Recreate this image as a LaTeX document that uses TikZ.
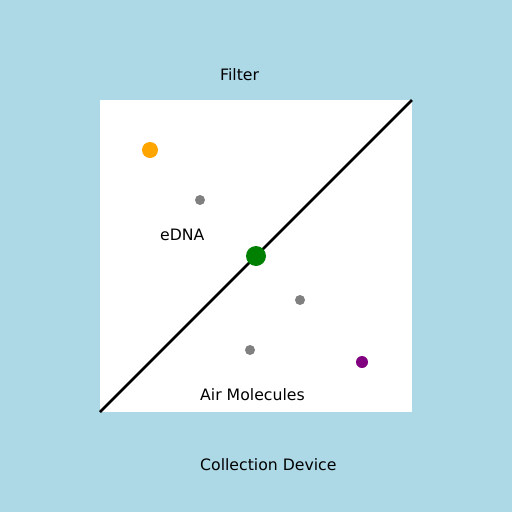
\documentclass[tikz,border=0pt]{standalone}
\usepackage{fontspec}
\setmainfont{DejaVu Sans}
\definecolor{bgblue}{HTML}{ADD8E6}
\definecolor{dotorange}{HTML}{FFA500}
\definecolor{dotgray}{HTML}{808080}
\definecolor{dotgreen}{HTML}{008000}
\definecolor{dotpurple}{HTML}{800080}
\begin{document}
\begin{tikzpicture}[x=1pt,y=-1pt,
  lbl/.style={anchor=base west,inner sep=0pt,font=\fontsize{15.7}{19}\selectfont},
  dot/.style={circle,inner sep=0pt,minimum size=#1}]
\fill[bgblue] (0,0) rectangle (512,512);
\useasboundingbox (0,0) rectangle (512,512);
\fill[white] (100,100) rectangle (412,412);
\coordinate (lo) at (100,412);
\coordinate (hi) at (412,100);
\draw[line width=2.8pt] (lo) -- (hi);
\node[dot=16pt,fill=dotorange] (orange) at (150,150) {};
\node[dot=10pt,fill=dotgray] (g1) at (200,200) {};
\node[dot=20pt,fill=dotgreen] (green) at (256,256) {};
\node[dot=10pt,fill=dotgray] (g2) at (300,300) {};
\node[dot=10pt,fill=dotgray] (g3) at (250,350) {};
\node[dot=12pt,fill=dotpurple] (purple) at (362,362) {};
\node[lbl] (filter) at (220,80) {Filter};
\node[lbl] (edna) at (160,240) {eDNA};
\node[lbl] (air) at (200,400) {Air Molecules};
\node[lbl] (dev) at (200,470.5) {Collection Device};
\end{tikzpicture}
\end{document}
